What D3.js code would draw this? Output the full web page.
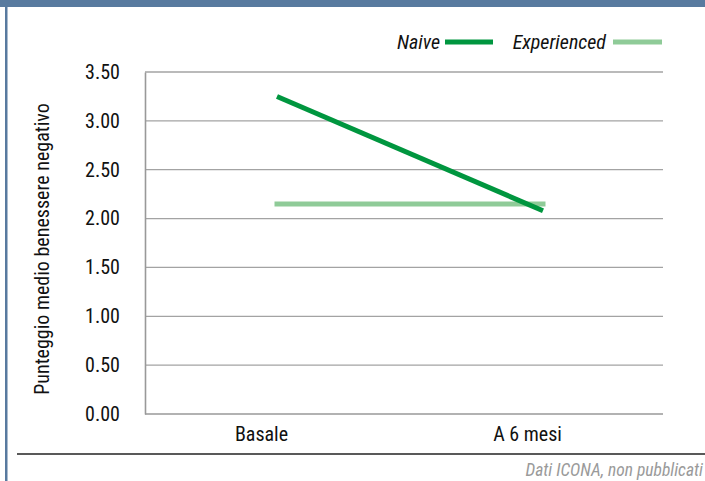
<!DOCTYPE html>
<html>
<head>
<meta charset="utf-8">
<script src="https://cdn.jsdelivr.net/npm/d3@7"></script>
<style>
  html, body { margin: 0; padding: 0; background: #fff; }
  svg { display: block; }
  text { font-family: "Liberation Sans Narrow", "Roboto Condensed", "Arial Narrow", "Liberation Sans", Arial, sans-serif; }
</style>
</head>
<body>
<svg id="chart" width="705" height="481"></svg>
<script>
// Time points and mean negative well-being score per group
const categories = ["Basale", "A 6 mesi"];
const naive = [3.25, 2.08];
const experienced = [2.15, 2.15];
const yTicks = [0, 0.5, 1, 1.5, 2, 2.5, 3, 3.5];
const seriesNames = ["Naive", "Experienced"];

const W = 705, H = 481;
const plot = { left: 145, right: 663, top: 72, bottom: 414 };
const colors = { Naive: "#00963f", Experienced: "#8fcb98" };
const FS = 20;

const svg = d3.select("#chart");

// Frame: top band and left rule
svg.append("rect").attr("x", 0).attr("y", 0).attr("width", W).attr("height", 7).attr("fill", "#587a9f");
svg.append("rect").attr("x", 5).attr("y", 0).attr("width", 2.5).attr("height", H).attr("fill", "#587a9f");

const y = d3.scaleLinear().domain([0, 3.5]).range([plot.bottom, plot.top]);
const x = d3.scalePoint().domain(categories).range([277, 543]);

// Horizontal gridlines
svg.append("g")
  .selectAll("line")
  .data(yTicks.filter(d => d > 0))
  .join("line")
  .attr("x1", plot.left).attr("x2", plot.right)
  .attr("y1", d => y(d)).attr("y2", d => y(d))
  .attr("stroke", "#a3a3a3").attr("stroke-width", 1.3);

// Y axis with tick labels
const yAxis = svg.append("g")
  .attr("transform", `translate(${plot.left},0)`)
  .call(d3.axisLeft(y).tickValues(yTicks).tickFormat(d3.format(".2f")).tickSize(0).tickPadding(25));
yAxis.select(".domain").attr("stroke", "#999").attr("stroke-width", 1.6);
yAxis.selectAll("text").attr("font-size", FS).attr("fill", "#111");

// X axis with category labels
const xAxis = svg.append("g")
  .attr("transform", `translate(0,${plot.bottom})`)
  .call(d3.axisBottom(x).tickSize(0).tickPadding(13));
xAxis.select(".domain").remove();
xAxis.append("line")
  .attr("x1", plot.left).attr("x2", plot.right)
  .attr("y1", 0).attr("y2", 0)
  .attr("stroke", "#999").attr("stroke-width", 1.6);
xAxis.selectAll(".tick text").attr("font-size", FS).attr("fill", "#111").attr("dx", -16);

// Y axis title
svg.append("text")
  .attr("transform", `translate(49,${(plot.top + plot.bottom) / 2 + 6}) rotate(-90)`)
  .attr("text-anchor", "middle")
  .attr("font-size", FS)
  .attr("fill", "#111")
  .text("Punteggio medio benessere negativo");

// Series lines
const line = d3.line().x((d, i) => x(categories[i])).y(d => y(d));
svg.append("path").datum(experienced)
  .attr("d", line).attr("fill", "none")
  .attr("stroke", colors.Experienced).attr("stroke-width", 5).attr("stroke-linecap", "square");
svg.append("path").datum(naive)
  .attr("d", line).attr("fill", "none")
  .attr("stroke", colors.Naive).attr("stroke-width", 5);

// Legend
const legend = [
  { name: seriesNames[0], textEnd: 440, x1: 445, x2: 493 },
  { name: seriesNames[1], textEnd: 606, x1: 613, x2: 662 }
];
const lg = svg.append("g").selectAll("g").data(legend).join("g");
lg.append("text")
  .attr("x", d => d.textEnd).attr("y", 49)
  .attr("text-anchor", "end")
  .attr("font-size", FS).attr("font-style", "italic").attr("fill", "#111")
  .text(d => d.name);
lg.append("line")
  .attr("x1", d => d.x1).attr("x2", d => d.x2)
  .attr("y1", 42).attr("y2", 42)
  .attr("stroke", d => colors[d.name]).attr("stroke-width", 5);

// Bottom rule and source note
svg.append("line")
  .attr("x1", 17).attr("x2", W).attr("y1", 454).attr("y2", 454)
  .attr("stroke", "#222").attr("stroke-width", 1.6);
svg.append("text")
  .attr("x", 703).attr("y", 476)
  .attr("text-anchor", "end")
  .attr("font-size", 17.5).attr("font-style", "italic").attr("fill", "#9a9a9a")
  .text("Dati ICONA, non pubblicati");
</script>
</body>
</html>
